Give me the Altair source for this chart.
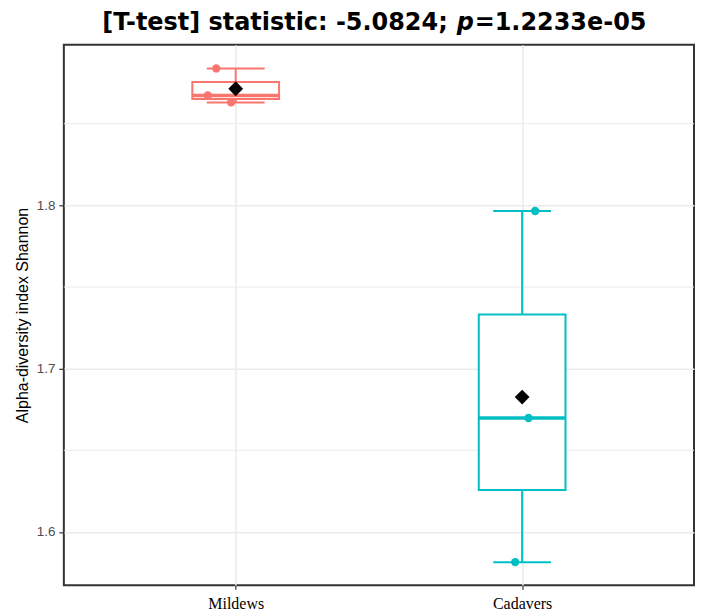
import altair as alt
import pandas as pd

groups = ["Mildews", "Cadavers"]
colors = ["#F8766D", "#00BFC4"]
mildews_vals = [1.8838, 1.8673, 1.8630]
cadavers_vals = [1.7965, 1.6698, 1.5815]
# horizontal jitter of the points (pixels)
mildews_jitter = [-19.5, -28.0, -4.6]
cadavers_jitter = [13.0, 6.4, -7.0]
y_ticks = [1.6, 1.7, 1.8]
y_minor = [1.65, 1.75, 1.85]
y_domain = [1.5674, 1.8983]
y_title = "Alpha-diversity index Shannon"
title_parts = ["[T-test] statistic: -5.0824;", "p", "=1.2233e-05"]

df = pd.DataFrame({
    "group": ["Mildews"] * len(mildews_vals) + ["Cadavers"] * len(cadavers_vals),
    "value": mildews_vals + cadavers_vals,
    "jit": mildews_jitter + cadavers_jitter,
})

W, H, TH = 632, 542, 36
yscale = alt.Scale(domain=y_domain, nice=False, zero=False)
yaxis = alt.Axis(values=y_ticks, format=".1f", grid=True, gridColor="#EBEBEB", gridWidth=1.5,
                 domain=False, tickColor="#333333", tickSize=5, tickWidth=1.2,
                 labelFont="Liberation Sans", labelFontSize=13.5, labelColor="#4D4D4D",
                 labelPadding=4, titleFont="Liberation Sans", titleFontSize=16,
                 titleFontWeight="normal", titleColor="black", titleX=-36, titleY=H / 2,
                 titleAngle=-90, titleBaseline="alphabetic", titleAlign="center")


def yenc(field):
    return alt.Y(field, scale=yscale, axis=yaxis, title=y_title)


xenc = alt.X("group:N", sort=groups, scale=alt.Scale(type="point", padding=0.6), title=None,
             axis=alt.Axis(grid=True, gridColor="#EBEBEB", gridWidth=1.5, domain=False,
                           tickColor="#333333", tickSize=4, tickWidth=1.2, labelAngle=0,
                           labelFont="Liberation Serif", labelFontSize=16, labelColor="black",
                           labelPadding=6))
cscale = alt.Scale(domain=groups, range=colors)
color = alt.Color("group:N", scale=cscale, legend=None)

base = alt.Chart(df)
stats = base.transform_aggregate(
    vmin="min(value)", vmax="max(value)", q1="q1(value)", q3="q3(value)",
    med="median(value)", mean="mean(value)", groupby=["group"])

minor = alt.Chart(pd.DataFrame({"v": y_minor})).mark_rule(color="#EBEBEB", strokeWidth=1).encode(
    y=yenc("v:Q"))

whisker = stats.mark_rule(strokeWidth=2).encode(x=xenc, y=yenc("vmin:Q"), y2="vmax:Q", color=color)
cap_lo = stats.mark_tick(size=58, thickness=2, opacity=1).encode(x=xenc, y=yenc("vmin:Q"), color=color)
cap_hi = stats.mark_tick(size=58, thickness=2, opacity=1).encode(x=xenc, y=yenc("vmax:Q"), color=color)
box = stats.mark_bar(size=87, strokeWidth=2).encode(
    x=xenc, y=yenc("q1:Q"), y2="q3:Q",
    stroke=alt.Stroke("group:N", scale=cscale, legend=None), fill=alt.value("white"))
median = stats.mark_tick(size=87, thickness=3.5, opacity=1).encode(x=xenc, y=yenc("med:Q"), color=color)
points = base.mark_circle(size=70, opacity=1).encode(
    x=xenc, xOffset=alt.XOffset("jit:Q", scale=None), y=yenc("value:Q"), color=color)
mean = stats.mark_point(shape="diamond", filled=True, size=220, color="black", opacity=1).encode(
    x=xenc, y=yenc("mean:Q"))

main = alt.layer(minor, whisker, cap_lo, cap_hi, box, median, points, mean).properties(
    width=W, height=H, view=alt.ViewBackground(stroke="#333333", strokeWidth=2))

tfont = dict(font="DejaVu Sans", fontSize=24, fontWeight="bold", color="black", baseline="alphabetic")
TY = 21.5
t1 = alt.Chart(pd.DataFrame({"t": [title_parts[0]]})).mark_text(align="right", **tfont).encode(
    x=alt.value(385), y=alt.value(TY), text="t:N")
t2 = alt.Chart(pd.DataFrame({"t": [title_parts[1]]})).mark_text(align="left", fontStyle="italic", **tfont).encode(
    x=alt.value(394), y=alt.value(TY), text="t:N")
t3 = alt.Chart(pd.DataFrame({"t": [title_parts[2]]})).mark_text(align="left", **tfont).encode(
    x=alt.value(412), y=alt.value(TY), text="t:N")
top = alt.layer(t1, t2, t3).properties(
    width=W, height=TH, view=alt.ViewBackground(stroke="transparent", strokeWidth=0))

chart = alt.vconcat(top, main, spacing=0, bounds="flush").properties(
    padding={"left": 6, "top": 0, "right": 0, "bottom": 0},
)

chart.save("out.html", embed_options={"renderer": "svg", "actions": False})
